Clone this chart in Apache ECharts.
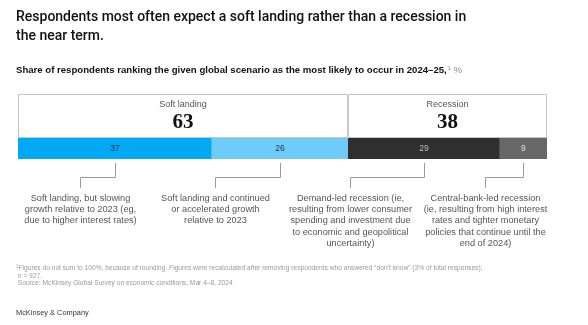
<!DOCTYPE html>
<html><head><meta charset="utf-8">
<script src="https://cdn.jsdelivr.net/npm/echarts@6/dist/echarts.min.js"></script>
<style>html,body{margin:0;padding:0;background:#fff}#c{width:588px;height:325px}</style>
</head><body><div id="c"></div>
<script>
const groupNames = ['Soft landing', 'Recession'];
const groupValues = [63, 38];
const segmentValues = [37, 26, 29, 9];
const segmentLabels = [
  'Soft landing, but slowing\ngrowth relative to 2023 (eg,\ndue to higher interest rates)',
  'Soft landing and continued\nor accelerated growth\nrelative to 2023',
  'Demand-led recession (ie,\nresulting from lower consumer\nspending and investment due\nto economic and geopolitical\nuncertainty)',
  'Central-bank-led recession\n(ie, resulting from high interest\nrates and tighter monetary\npolicies that continue until the\nend of 2024)'
];
const axisMax = 101;

const SANS = 'Liberation Sans, Arial, sans-serif';
const segColors = ['#00A9F4', '#6FCBF7', '#2F2F2F', '#686868'];
const segText = ['#1d3448', '#1d3448', '#bdbdbd', '#e0e0e0'];

const chart = echarts.init(document.getElementById('c'), null, {renderer: 'canvas'});

const series = [];
groupValues.forEach((v, i) => {
  series.push({
    type: 'bar', xAxisIndex: 0, yAxisIndex: 0, stack: 'g', barWidth: '100%',
    data: [v], silent: true,
    itemStyle: {color: '#fff', borderColor: '#c6c6c6', borderWidth: 1},
    label: {
      show: true, position: 'inside',
      formatter: '{a|' + groupNames[i] + '}\n{b|' + v + '}',
      rich: {
        a: {fontFamily: SANS, fontSize: 9, color: '#555', lineHeight: 14},
        b: {fontFamily: 'Liberation Serif, DejaVu Serif, serif', fontWeight: 'bold', fontSize: 21, color: '#111', lineHeight: 22}
      }
    }
  });
});
segmentValues.forEach((v, i) => {
  series.push({
    type: 'bar', xAxisIndex: 1, yAxisIndex: 1, stack: 's', barWidth: '100%',
    data: [v], silent: true,
    itemStyle: {color: segColors[i]},
    label: {show: true, position: 'inside', formatter: String(v), fontFamily: SANS, fontSize: 8.5, color: segText[i]}
  });
});

chart.setOption({
  animation: false,
  grid: [
    {left: 18, right: 41, top: 94, height: 44},
    {left: 18, right: 41, top: 138, height: 21}
  ],
  xAxis: [
    {gridIndex: 0, type: 'value', min: 0, max: axisMax, show: false},
    {gridIndex: 1, type: 'value', min: 0, max: axisMax, show: false}
  ],
  yAxis: [
    {gridIndex: 0, type: 'category', data: ['g'], show: false},
    {gridIndex: 1, type: 'category', data: ['s'], show: false}
  ],
  series: series
});

const g = [];
// titles
g.push({type: 'text', left: 16, top: 8, style: {
  text: 'Respondents most often expect a soft landing rather than a recession in\nthe near term.',
  font: '500 14px Roboto, ' + SANS, fill: '#111', lineHeight: 19}});
g.push({type: 'text', left: 16, top: 65, style: {
  text: '{b|Share of respondents ranking the given global scenario as the most likely to occur in 2024\u201325,}{s|1}{p| %}',
  rich: {
    b: {fontFamily: SANS, fontWeight: 'bold', fontSize: 9.6, fill: '#111'},
    s: {fontFamily: SANS, fontSize: 5.5, fill: '#777', verticalAlign: 'top', padding: [0, 0, 4, 1]},
    p: {fontFamily: SANS, fontSize: 9.6, fill: '#888'}
  }}});

// connectors + descriptions
let cum = 0;
const colCenter = i => 12 + 135 * (i + 0.5);
segmentValues.forEach((v, i) => {
  const mid = cum + v / 2; cum += v;
  const p = chart.convertToPixel({xAxisIndex: 1, yAxisIndex: 1}, [mid, 0]);
  const x1 = Math.round(p[0]) + 0.5, x2 = Math.round(colCenter(i)) + 0.5;
  g.push({type: 'polyline', silent: true, shape: {points: [[x1, 163], [x1, 177.5], [x2, 177.5], [x2, 188]]},
    style: {stroke: '#9a9a9a', lineWidth: 1, fill: null}});
  g.push({type: 'text', silent: true, x: x2, y: 192.5, style: {
    text: segmentLabels[i], font: '9.2px ' + SANS, fill: '#555', align: 'center', verticalAlign: 'top', lineHeight: 11.3}});
});

// footnotes
g.push({type: 'text', left: 16, top: 264, style: {
  text: '{s|1}{t|Figures do not sum to 100%, because of rounding. Figures were recalculated after removing respondents who answered \u201cdon\u2019t know\u201d (3% of total responses);}\n{t| n = 927.}\n{t| Source: McKinsey Global Survey on economic conditions, Mar 4\u20138, 2024}',
  rich: {
    s: {fontFamily: SANS, fontSize: 4.5, fill: '#999', verticalAlign: 'top', lineHeight: 7.8},
    t: {fontFamily: SANS, fontSize: 6.65, fill: '#999', lineHeight: 7.8}
  }}});
g.push({type: 'text', left: 16, top: 309, style: {
  text: 'McKinsey & Company', font: '7.4px ' + SANS, fill: '#333'}});

chart.setOption({graphic: g});
</script></body></html>
